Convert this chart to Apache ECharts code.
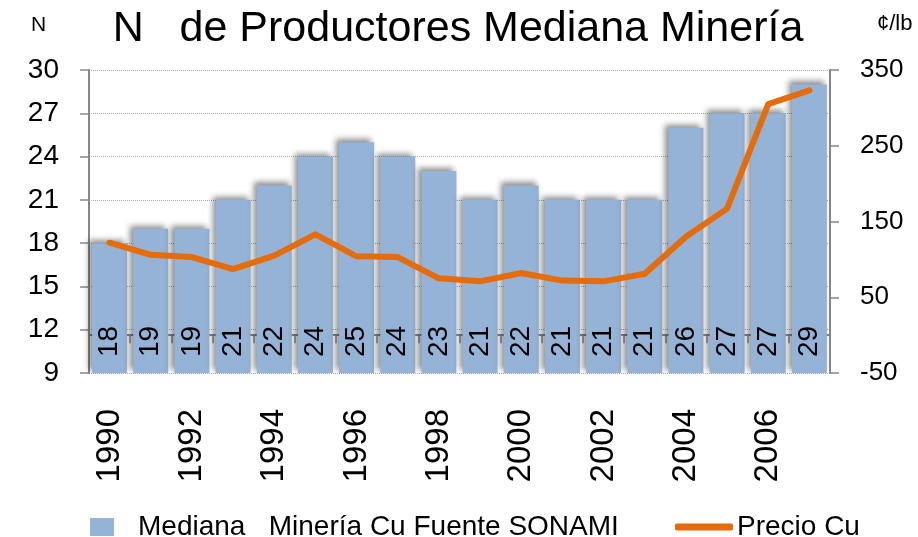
<!DOCTYPE html>
<html>
<head>
<meta charset="utf-8">
<script src="https://cdn.jsdelivr.net/npm/echarts@6/dist/echarts.min.js"></script>
<style>html,body{margin:0;padding:0;background:#fff}#c{width:918px;height:537px}</style>
</head>
<body>
<div id="c"></div>
<script>
var years = ['1990','1991','1992','1993','1994','1995','1996','1997','1998','1999','2000','2001','2002','2003','2004','2005','2006','2007'];
var producers = [18,19,19,21,22,24,25,24,23,21,22,21,21,21,26,27,27,29];
var price = [122,106,103,87,105,133,104,103,75,71,82,72,71,81,130,167,305,323];
var leftTicks = [9,30,3];
var rightTicks = [-50,350,100];

var chart = echarts.init(document.getElementById('c'));
var sans = '"Liberation Sans", Arial, sans-serif';
chart.setOption({
  animation: false,
  title: [
    {text: 'N   de Productores Mediana Minería', left: 453, top: 3, textAlign: 'center',
     textStyle: {fontFamily: sans, fontSize: 43, fontWeight: 'normal', color: '#000'}},
    {text: 'N', left: 26, top: 10, textStyle: {fontFamily: sans, fontSize: 21, fontWeight: 'normal', color: '#000'}},
    {text: '¢/lb', left: 872, top: 8, textStyle: {fontFamily: sans, fontSize: 22, fontWeight: 'normal', color: '#000'}}
  ],
  legend: [
    {data: [{name: 'Mediana   Minería Cu Fuente SONAMI', icon: 'rect'}], left: 85, top: 508, itemWidth: 24, itemHeight: 18,
     textStyle: {fontFamily: sans, fontSize: 28, color: '#000', padding: [0,0,0,19]}},
    {data: [{name: 'Precio Cu', icon: 'roundRect'}], left: 670, top: 508, itemWidth: 58, itemHeight: 7,
     itemStyle: {color: '#e46c0a'},
     textStyle: {fontFamily: sans, fontSize: 28, color: '#000', padding: [0,0,0,-1]}}
  ],
  grid: {left: 89, right: 88, top: 70, bottom: 164, containLabel: false},
  xAxis: {
    type: 'category', data: years, boundaryGap: true,
    axisLine: {lineStyle: {color: '#888', width: 2}},
    axisTick: {show: true, interval: 0, length: 8, lineStyle: {color: '#888', width: 1.5}},
    axisLabel: {interval: 1, rotate: 90, margin: 36, fontFamily: sans, fontSize: 33, color: '#000'}
  },
  yAxis: [
    {type: 'value', min: leftTicks[0], max: leftTicks[1], interval: leftTicks[2],
     axisLine: {show: true, lineStyle: {color: '#888', width: 2}},
     axisTick: {show: true, length: 9, lineStyle: {color: '#888', width: 1.5}},
     axisLabel: {margin: 30, fontFamily: sans, fontSize: 28, color: '#000'},
     splitLine: {show: true, lineStyle: {color: '#aaa', type: 'dotted', width: 1}}},
    {type: 'value', min: rightTicks[0], max: rightTicks[1], interval: rightTicks[2], position: 'right',
     axisLine: {show: true, lineStyle: {color: '#888', width: 2}},
     axisTick: {show: true, length: 9, lineStyle: {color: '#888', width: 1.5}},
     axisLabel: {margin: 30, fontFamily: sans, fontSize: 26, color: '#000'},
     splitLine: {show: false}}
  ],
  series: [
    {name: 'Mediana   Minería Cu Fuente SONAMI', type: 'bar', data: producers, yAxisIndex: 0,
     barCategoryGap: '15%',
     itemStyle: {color: '#95b3d7', shadowBlur: 6, shadowColor: 'rgba(0,0,0,0.45)', shadowOffsetX: -3, shadowOffsetY: -3},
     label: {show: true, position: 'insideBottom', rotate: 90, align: 'left', verticalAlign: 'middle', distance: 16,
             fontFamily: sans, fontSize: 28, color: '#000'}},
    {name: 'Precio Cu', type: 'line', data: price, yAxisIndex: 1, symbol: 'none', smooth: false,
     lineStyle: {color: '#e46c0a', width: 6, cap: 'round', join: 'round'}, itemStyle: {color: '#e46c0a'}, z: 5}
  ]
});
</script>
</body>
</html>
